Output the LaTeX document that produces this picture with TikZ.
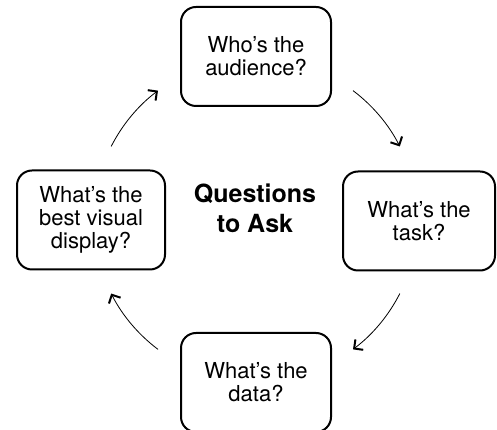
\documentclass[tikz,border=0pt]{standalone}
\usepackage{fontspec}
\setmainfont{TeX Gyre Heros}
\usetikzlibrary{arrows.meta}

\tikzset{
  question/.style={draw=black, line width=2pt, rounded corners=15pt,
    minimum width=150pt, minimum height=99pt, align=center, inner sep=0pt,
    font=\fontsize{22}{23}\selectfont},
  title/.style={align=center, font=\fontsize{25}{30}\selectfont\bfseries},
  cycle/.style={line width=0.8pt, black,
    -{Straight Barb[length=6.5pt, width=13pt, line width=2pt]}}
}

\begin{document}
\begin{tikzpicture}[x=1pt, y=1pt]
  \useasboundingbox (0,0) rectangle (497,430);

  % centre of the cycle
  \coordinate (c) at (255.5,210);

  \node[question] (audience) at (256,373.5) {Who’s the\\audience?};
  \node[question, minimum width=152pt] (task) at (419,209) {What’s the\\task?};
  \node[question] (data) at (256,47.5) {What’s the\\data?};
  \node[question, minimum width=148pt] (display) at (91,210) {What’s the\\best visual\\display?};

  \node[title] (ask) at (255,222) {Questions\\to Ask};

  % curved arrows running clockwise round the cycle
  \draw[cycle] ([shift={(153:162)}]c) arc[start angle=153, end angle=127, radius=162];
  \draw[cycle] ([shift={(53:162)}]c) arc[start angle=53, end angle=27, radius=162];
  \draw[cycle] ([shift={(-27:162)}]c) arc[start angle=-27, end angle=-53, radius=162];
  \draw[cycle] ([shift={(-127:162)}]c) arc[start angle=-127, end angle=-153, radius=162];
\end{tikzpicture}
\end{document}
